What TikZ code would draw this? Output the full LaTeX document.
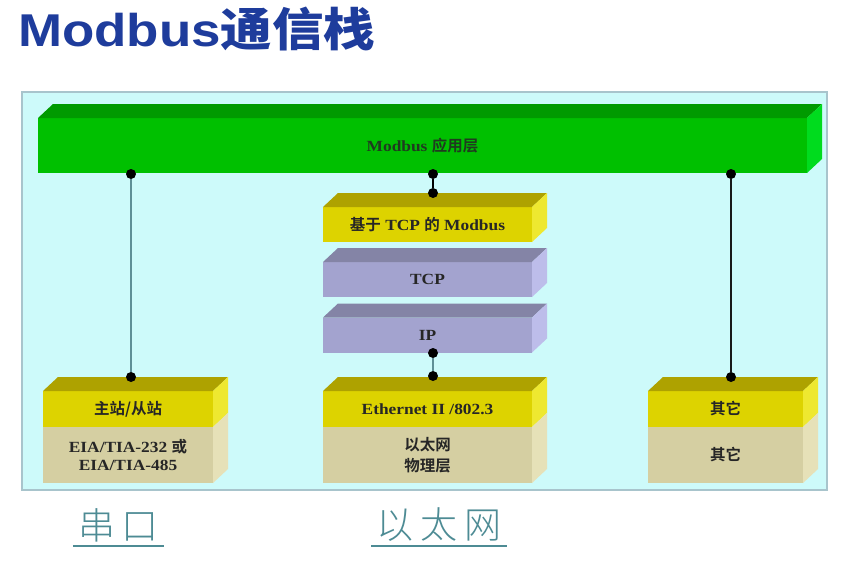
\documentclass[tikz,border=0pt]{standalone}
\usepackage{fontspec}
\setmainfont{Liberation Serif}[FakeStretch=1.12]
\newfontfamily\titlefont{Liberation Sans}[FakeStretch=1.15]
\newfontfamily\cjk{Noto Sans CJK SC}[BoldFont={Noto Sans CJK SC Bold}]
\newfontfamily\cjktitle{Noto Sans CJK SC Bold}[FakeStretch=1.12]
\newfontfamily\cjklight{Noto Sans CJK SC Light}
\definecolor{titleblue}{HTML}{1E3C9C}
\definecolor{panelfill}{HTML}{CDFAFA}
\definecolor{panelborder}{HTML}{A8C4CC}
\definecolor{greenfront}{HTML}{00C000}
\definecolor{greentop}{HTML}{009A00}
\definecolor{greenside}{HTML}{00DC1E}
\definecolor{yelfront}{HTML}{DDD300}
\definecolor{yeltop}{HTML}{AEA200}
\definecolor{yelside}{HTML}{EEE830}
\definecolor{tanfront}{HTML}{D5CFA2}
\definecolor{tanside}{HTML}{E6E1B8}
\definecolor{purfront}{HTML}{A3A3CF}
\definecolor{purtop}{HTML}{8484A6}
\definecolor{purside}{HTML}{BDBDEA}
\definecolor{labelteal}{HTML}{4D8B94}
\definecolor{lineteal}{HTML}{5E8F96}
\definecolor{apptext}{HTML}{203A20}
\newcommand{\topface}[2]{%
  \fill[#2] (#1.north west) -- ([shift={(15,-14)}]#1.north west) -- ([shift={(15,-14)}]#1.north east) -- (#1.north east) -- cycle;}
\newcommand{\sideface}[2]{%
  \fill[#2] (#1.north east) -- ([shift={(15,-14)}]#1.north east) -- ([shift={(15,-14)}]#1.south east) -- (#1.south east) -- cycle;}
\tikzset{
  face/.style={inner sep=0, outer sep=0, minimum height=35pt},
  boxtext/.style={font=\bfseries\fontsize{15.5}{19}\selectfont, text=black!85, align=center},
  dotnode/.style={circle, fill=black, inner sep=0, minimum size=10pt},
  conn/.style={line width=1.5pt},
  ulabel/.style={text=labelteal, font=\cjklight\fontsize{37}{40}\selectfont, inner xsep=5pt, inner ysep=4pt},
  uline/.style={draw=labelteal, line width=1.3pt}
}
\begin{document}
\begin{tikzpicture}[x=1pt,y=-1pt]
\useasboundingbox (0,0) rectangle (859,573);
\fill[white] (0,0) rectangle (859,573);
\node[anchor=base west, text=titleblue, inner sep=0] (title) at (18,46) {\titlefont\bfseries\fontsize{46}{50}\selectfont Modbus\cjktitle 通信栈};
\node[draw=panelborder, fill=panelfill, line width=1.2pt, minimum width=805pt, minimum height=398pt, inner sep=0] (panel) at (424.5,291) {};
% application layer
\node[face, fill=greenfront, minimum width=769pt, minimum height=55pt, boxtext, text=apptext] (app) at (422.5,145.5) {Modbus {\cjk\bfseries 应用层}};
\topface{app}{greentop}\sideface{app}{greenside}
% middle stack
\node[face, fill=yelfront, minimum width=209pt, boxtext] (tcpmb) at (427.5,224.5) {{\cjk\bfseries 基于} TCP {\cjk\bfseries 的} Modbus};
\topface{tcpmb}{yeltop}\sideface{tcpmb}{yelside}
\node[face, fill=purfront, minimum width=209pt, boxtext] (tcp) at (427.5,279.5) {TCP};
\topface{tcp}{purtop}\sideface{tcp}{purside}
\node[face, fill=purfront, minimum width=209pt, boxtext] (ip) at (427.5,335) {IP};
\topface{ip}{purtop}\sideface{ip}{purside}
\node[face, fill=yelfront, minimum width=209pt, minimum height=36pt, boxtext] (eth) at (427.5,409) {Ethernet II /802.3};
\topface{eth}{yeltop}\sideface{eth}{yelside}
\node[face, fill=tanfront, minimum width=209pt, minimum height=56pt, boxtext] (ethphy) at (427.5,455) {{\cjk\bfseries 以太网}\\[2pt]{\cjk\bfseries 物理层}};
\sideface{ethphy}{tanside}
% left stack
\node[face, fill=yelfront, minimum width=170pt, minimum height=36pt, boxtext] (ms) at (128,409) {{\cjk\bfseries 主站/从站}};
\topface{ms}{yeltop}\sideface{ms}{yelside}
\node[face, fill=tanfront, minimum width=170pt, minimum height=56pt, boxtext] (eia) at (128,455) {EIA/TIA-232 {\cjk\bfseries 或}\\[-1pt]EIA/TIA-485};
\sideface{eia}{tanside}
% right stack
\node[face, fill=yelfront, minimum width=155pt, minimum height=36pt, boxtext] (oth) at (725.5,409) {{\cjk\bfseries 其它}};
\topface{oth}{yeltop}\sideface{oth}{yelside}
\node[face, fill=tanfront, minimum width=155pt, minimum height=56pt, boxtext] (othphy) at (725.5,455) {{\cjk\bfseries 其它}};
\sideface{othphy}{tanside}
% dots
\node[dotnode] (d1) at (131,174) {};
\node[dotnode] (d2) at (433,174) {};
\node[dotnode] (d3) at (731,174) {};
\node[dotnode] (d4) at (433,193) {};
\node[dotnode] (d5) at (433,353) {};
\node[dotnode] (d6) at (433,376) {};
\node[dotnode] (d7) at (131,377) {};
\node[dotnode] (d8) at (731,377) {};
% connectors
\draw[conn, lineteal] (d1) -- (d7);
\draw[conn, black] (d2) -- (d4);
\draw[conn, lineteal] (d5) -- (d6);
\draw[conn, black!90] (d3) -- (d8);
% bottom labels
\node[ulabel] (serial) at (118.5,525) {串\hspace{7pt}口};
\draw[uline] (serial.south west) -- (serial.south east);
\node[ulabel] (ether) at (439,525) {以\hspace{7pt}太\hspace{7pt}网};
\draw[uline] (ether.south west) -- (ether.south east);
\end{tikzpicture}
\end{document}
